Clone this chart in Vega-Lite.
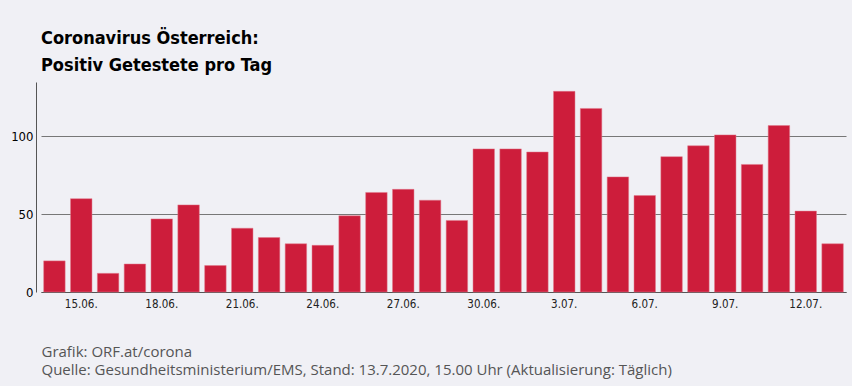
{
  "$schema": "https://vega.github.io/schema/vega-lite/v6.json",
  "width": 805,
  "height": 210,
  "autosize": {"type": "none"},
  "padding": {"left": 41, "top": 82, "right": 6, "bottom": 94},
  "background": "#f0f0f5",
  "title": {
    "text": ["Coronavirus Österreich:", "Positiv Getestete pro Tag"],
    "anchor": "start",
    "frame": "group",
    "font": "DejaVu Sans Condensed",
    "fontSize": 18,
    "fontWeight": "bold",
    "color": "#000000",
    "lineHeight": 27,
    "baseline": "bottom",
    "offset": -11
  },
  "data": {
    "values": [
      {"Datum": "14.06.", "Wert": 20},
      {"Datum": "15.06.", "Wert": 60},
      {"Datum": "16.06.", "Wert": 12},
      {"Datum": "17.06.", "Wert": 18},
      {"Datum": "18.06.", "Wert": 47},
      {"Datum": "19.06.", "Wert": 56},
      {"Datum": "20.06.", "Wert": 17},
      {"Datum": "21.06.", "Wert": 41},
      {"Datum": "22.06.", "Wert": 35},
      {"Datum": "23.06.", "Wert": 31},
      {"Datum": "24.06.", "Wert": 30},
      {"Datum": "25.06.", "Wert": 49},
      {"Datum": "26.06.", "Wert": 64},
      {"Datum": "27.06.", "Wert": 66},
      {"Datum": "28.06.", "Wert": 59},
      {"Datum": "29.06.", "Wert": 46},
      {"Datum": "30.06.", "Wert": 92},
      {"Datum": "1.07.", "Wert": 92},
      {"Datum": "2.07.", "Wert": 90},
      {"Datum": "3.07.", "Wert": 129},
      {"Datum": "4.07.", "Wert": 118},
      {"Datum": "5.07.", "Wert": 74},
      {"Datum": "6.07.", "Wert": 62},
      {"Datum": "7.07.", "Wert": 87},
      {"Datum": "8.07.", "Wert": 94},
      {"Datum": "9.07.", "Wert": 101},
      {"Datum": "10.07.", "Wert": 82},
      {"Datum": "11.07.", "Wert": 107},
      {"Datum": "12.07.", "Wert": 52},
      {"Datum": "13.07.", "Wert": 31}
    ]
  },
  "mark": {"type": "bar", "color": "#cd1d3b", "stroke": "#e07a8c", "strokeWidth": 0.5},
  "encoding": {
    "x": {
      "field": "Datum",
      "type": "ordinal",
      "sort": null,
      "scale": {"paddingInner": 0.2, "paddingOuter": 0.1},
      "axis": {
        "values": ["15.06.", "18.06.", "21.06.", "24.06.", "27.06.", "30.06.", "3.07.", "6.07.", "9.07.", "12.07."],
        "labelAngle": 0,
        "ticks": false,
        "labelPadding": 6,
        "labelFont": "DejaVu Sans Condensed",
        "labelFontSize": 11.5,
        "labelColor": "#222222",
        "domainColor": "#555555",
        "domainWidth": 1,
        "grid": false,
        "title": ["Grafik: ORF.at/corona", "Quelle: Gesundheitsministerium/EMS, Stand: 13.7.2020, 15.00 Uhr (Aktualisierung: Täglich)"],
        "titleAnchor": "start",
        "titleAlign": "left",
        "titleBaseline": "alphabetic",
        "titleX": 0,
        "titleY": 64,
        "titleFont": "Open Sans",
        "titleFontSize": 15,
        "titleFontWeight": "normal",
        "titleColor": "#555555",
        "titleLineHeight": 18.5
      }
    },
    "y": {
      "field": "Wert",
      "type": "quantitative",
      "scale": {"domain": [0, 135], "nice": false},
      "axis": {
        "values": [0, 50, 100],
        "ticks": false,
        "offset": 5,
        "labelPadding": 3,
        "labelFont": "DejaVu Sans Condensed",
        "labelFontSize": 13,
        "labelColor": "#000000",
        "domainColor": "#555555",
        "gridColor": "#777777",
        "gridWidth": 1,
        "title": null
      }
    }
  },
  "config": {
    "view": {"stroke": null},
    "axis": {"gridOpacity": 1}
  }
}
